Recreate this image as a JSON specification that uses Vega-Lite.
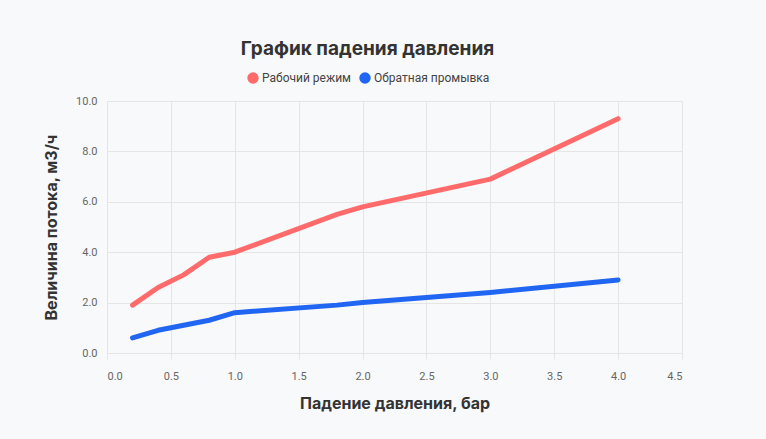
{
  "$schema": "https://vega.github.io/schema/vega-lite/v6.json",
  "width": 575,
  "height": 252,
  "autosize": {"type": "none"},
  "padding": {"left": 107, "top": 101, "right": 84, "bottom": 86},
  "background": "#f8f9fa",
  "title": {
    "text": "График падения давления",
    "font": "Inter",
    "fontSize": 19,
    "fontWeight": "bold",
    "color": "#333333",
    "anchor": "middle",
    "dx": -27,
    "offset": 13
  },
  "data": {
    "values": [
      {"x": 0.2, "y": 1.9, "s": "Рабочий режим"},
      {"x": 0.4, "y": 2.6, "s": "Рабочий режим"},
      {"x": 0.6, "y": 3.1, "s": "Рабочий режим"},
      {"x": 0.8, "y": 3.8, "s": "Рабочий режим"},
      {"x": 1.0, "y": 4.0, "s": "Рабочий режим"},
      {"x": 1.8, "y": 5.5, "s": "Рабочий режим"},
      {"x": 2.0, "y": 5.8, "s": "Рабочий режим"},
      {"x": 3.0, "y": 6.9, "s": "Рабочий режим"},
      {"x": 4.0, "y": 9.3, "s": "Рабочий режим"},
      {"x": 0.2, "y": 0.6, "s": "Обратная промывка"},
      {"x": 0.4, "y": 0.9, "s": "Обратная промывка"},
      {"x": 0.6, "y": 1.1, "s": "Обратная промывка"},
      {"x": 0.8, "y": 1.3, "s": "Обратная промывка"},
      {"x": 1.0, "y": 1.6, "s": "Обратная промывка"},
      {"x": 1.8, "y": 1.9, "s": "Обратная промывка"},
      {"x": 2.0, "y": 2.0, "s": "Обратная промывка"},
      {"x": 3.0, "y": 2.4, "s": "Обратная промывка"},
      {"x": 4.0, "y": 2.9, "s": "Обратная промывка"}
    ]
  },
  "mark": {"type": "line", "strokeWidth": 5, "strokeCap": "round", "strokeJoin": "round"},
  "encoding": {
    "x": {
      "field": "x",
      "type": "quantitative",
      "scale": {"domain": [0, 4.5], "nice": false},
      "axis": {
        "title": "Падение давления, бар",
        "values": [0, 0.5, 1, 1.5, 2, 2.5, 3, 3.5, 4, 4.5],
        "format": ".1f",
        "labelFont": "Roboto",
        "labelFontSize": 11,
        "labelColor": "#666666",
        "labelPadding": 11,
        "titleFont": "Inter",
        "titleFontSize": 16,
        "titleFontWeight": "bold",
        "titleColor": "#333333",
        "titlePadding": 14,
        "domain": false,
        "tickColor": "#e5e5e5",
        "tickSize": 6,
        "gridColor": "#e5e5e5"
      }
    },
    "y": {
      "field": "y",
      "type": "quantitative",
      "scale": {"domain": [0, 10], "nice": false},
      "axis": {
        "title": "Величина потока, м3/ч",
        "values": [0, 2, 4, 6, 8, 10],
        "format": ".1f",
        "labelFont": "Roboto",
        "labelFontSize": 11,
        "labelColor": "#666666",
        "labelPadding": 10,
        "titleFont": "Inter",
        "titleFontSize": 16,
        "titleFontWeight": "bold",
        "titleColor": "#333333",
        "titlePadding": 16,
        "domain": false,
        "ticks": false,
        "gridColor": "#e5e5e5"
      }
    },
    "color": {
      "field": "s",
      "type": "nominal",
      "sort": ["Рабочий режим", "Обратная промывка"],
      "scale": {"domain": ["Рабочий режим", "Обратная промывка"], "range": ["#ff6b6b", "#2166f3"]},
      "legend": {
        "title": null,
        "orient": "none",
        "direction": "horizontal",
        "legendX": 140,
        "legendY": -29,
        "symbolType": "circle",
        "symbolSize": 130,
        "symbolStrokeWidth": 0,
        "symbolOpacity": 1,
        "labelFont": "Roboto",
        "labelFontSize": 12,
        "labelColor": "#444444",
        "columnPadding": 8,
        "labelOffset": 3,
        "encode": {
          "symbols": {
            "update": {
              "fill": {"scale": "color", "field": "value"},
              "fillOpacity": {"value": 1},
              "strokeWidth": {"value": 0}
            }
          }
        }
      }
    }
  },
  "config": {
    "view": {"stroke": null}
  }
}
